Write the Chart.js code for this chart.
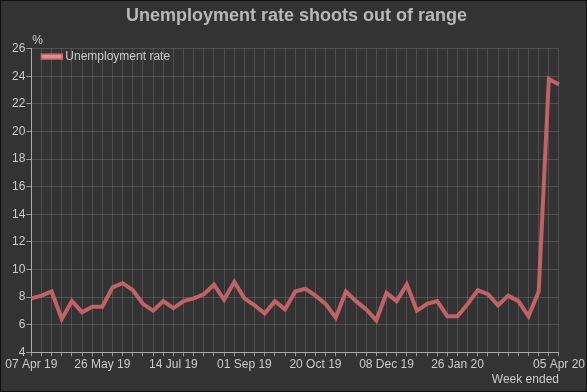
<!DOCTYPE html>
<html>
<head>
	<meta charset="utf-8">
	<script src="https://cdn.jsdelivr.net/npm/chart.js@4/dist/chart.umd.min.js"></script>
	<style type="text/css">
	html, body{
		margin: 0;
		padding: 0;
		background: #333333;
	}
	#holder{
		width: 585px;
		height: 390px;
		border: 1px solid #111;
		background: #333333;
	}
	</style>
</head>
<body>
	<div id="holder">
		<canvas id="chart-area"></canvas>
	</div>

	<script>

	// week ended, 07 Apr 19 .. 05 Apr 20
	var weeks = [
		'07 Apr 19', '14 Apr 19', '21 Apr 19', '28 Apr 19', '05 May 19', '12 May 19', '19 May 19',
		'26 May 19', '02 Jun 19', '09 Jun 19', '16 Jun 19', '23 Jun 19', '30 Jun 19', '07 Jul 19',
		'14 Jul 19', '21 Jul 19', '28 Jul 19', '04 Aug 19', '11 Aug 19', '18 Aug 19', '25 Aug 19',
		'01 Sep 19', '08 Sep 19', '15 Sep 19', '22 Sep 19', '29 Sep 19', '06 Oct 19', '13 Oct 19',
		'20 Oct 19', '27 Oct 19', '03 Nov 19', '10 Nov 19', '17 Nov 19', '24 Nov 19', '01 Dec 19',
		'08 Dec 19', '15 Dec 19', '22 Dec 19', '29 Dec 19', '05 Jan 20', '12 Jan 20', '19 Jan 20',
		'26 Jan 20', '02 Feb 20', '09 Feb 20', '16 Feb 20', '23 Feb 20', '01 Mar 20', '08 Mar 20',
		'15 Mar 20', '22 Mar 20', '29 Mar 20', '05 Apr 20'
	];

	var unemploymentRate = [
		7.9, 8.1, 8.4, 6.4, 7.7, 6.9, 7.3,
		7.3, 8.7, 9.0, 8.5, 7.5, 7.0, 7.7,
		7.2, 7.7, 7.9, 8.2, 8.9, 7.8, 9.1,
		7.9, 7.4, 6.8, 7.7, 7.1, 8.4, 8.6,
		8.1, 7.5, 6.5, 8.4, 7.7, 7.1, 6.3,
		8.3, 7.7, 8.9, 7.0, 7.5, 7.7, 6.6,
		6.6, 7.5, 8.5, 8.2, 7.4, 8.1, 7.7,
		6.6, 8.4, 23.8, 23.4
	];

	var yMin = 4, yMax = 26, yStep = 2;
	var labelEvery = 7;

	var fontFamily = '"Liberation Sans", Arial, sans-serif';
	var textColor = '#cccccc';
	var gridColor = 'rgba(255, 255, 255, 0.14)';
	var lineColor = 'rgb(194, 98, 104)';

	// "%" over the y axis and the legend inside the plot, top left
	var extras = {
		id: 'extras',
		afterDraw: function(chart) {
			var ctx = chart.ctx;
			var area = chart.chartArea;
			var ds = chart.data.datasets[0];
			ctx.save();
			ctx.fillStyle = textColor;
			ctx.font = '12px ' + fontFamily;
			ctx.textAlign = 'left';
			ctx.textBaseline = 'bottom';
			ctx.fillText('%', area.left + 1, area.top - 2);

			var bx = area.left + 10, by = area.top + 8;
			ctx.fillStyle = 'rgb(225, 140, 145)';
			ctx.strokeStyle = ds.borderColor;
			ctx.lineWidth = 1.5;
			ctx.fillRect(bx, by - 2.5, 21, 5);
			ctx.strokeRect(bx, by - 2.5, 21, 5);
			ctx.fillStyle = textColor;
			ctx.textBaseline = 'middle';
			ctx.fillText(ds.label, bx + 24, by);
			ctx.restore();
		}
	};

	var config = {
		type: 'line',
		data: {
			labels: weeks,
			datasets: [{
				label: 'Unemployment rate',
				data: unemploymentRate,
				borderColor: lineColor,
				borderWidth: 4,
				pointRadius: 0,
				tension: 0,
				fill: false
			}]
		},
		options: {
			responsive: true,
			maintainAspectRatio: false,
			animation: false,
			layout: {
				padding: { left: 10, right: 4, top: 0, bottom: 4 }
			},
			plugins: {
				title: {
					display: true,
					text: 'Unemployment rate shoots out of range',
					color: '#b8b8b8',
					font: { family: fontFamily, size: 18, weight: 'bold' },
					padding: { top: 4, bottom: 22 }
				},
				legend: { display: false },
				tooltip: { enabled: false }
			},
			scales: {
				x: {
					grid: {
						color: gridColor,
						tickColor: '#999999',
						tickLength: 4,
						offset: false
					},
					border: { color: '#aaaaaa' },
					offset: false,
					ticks: {
						color: textColor,
						font: { family: fontFamily, size: 12 },
						autoSkip: false,
						maxRotation: 0,
						padding: 1,
						callback: function(value, index) {
							var last = weeks.length - 1;
							if (index === last || (index % labelEvery === 0 && index <= last - 10)) {
								return weeks[index];
							}
							return '';
						}
					},
					title: {
						display: true,
						text: 'Week ended',
						align: 'end',
						color: textColor,
						font: { family: fontFamily, size: 12 },
						padding: { top: 0, bottom: 0 }
					}
				},
				y: {
					min: yMin,
					max: yMax,
					grid: {
						color: gridColor,
						tickColor: '#999999',
						tickLength: 5
					},
					border: { color: '#aaaaaa' },
					ticks: {
						stepSize: yStep,
						color: textColor,
						font: { family: fontFamily, size: 12 },
						padding: 1
					}
				}
			}
		},
		plugins: [extras]
	};

	window.onload = function() {
		var ctx = document.getElementById('chart-area').getContext('2d');
		new Chart(ctx, config);
	};

	</script>
</body>
</html>
